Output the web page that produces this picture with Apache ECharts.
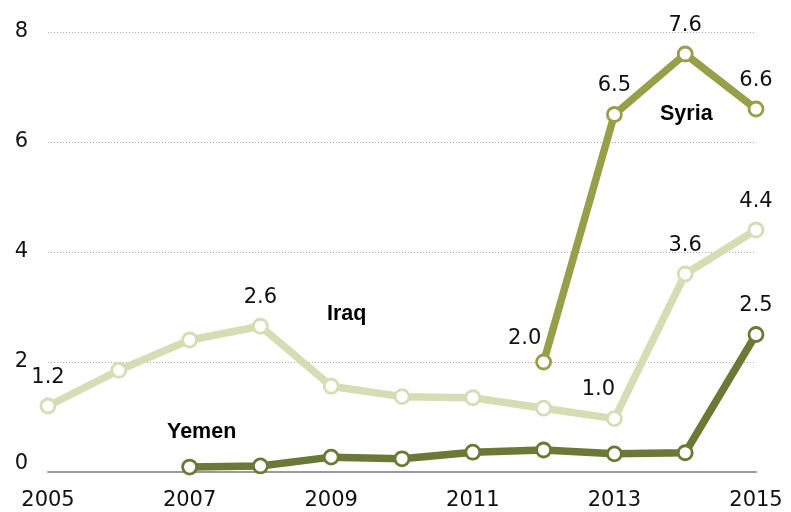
<!DOCTYPE html>
<html><head><meta charset="utf-8">
<script src="https://cdn.jsdelivr.net/npm/echarts@6/dist/echarts.min.js"></script>
<style>html,body{margin:0;padding:0;background:#fff}#c{width:791px;height:512px}</style>
</head><body><div id="c"></div>
<script>
var years = ['2005','2006','2007','2008','2009','2010','2011','2012','2013','2014','2015'];
var iraq  = [1.2, 1.85, 2.4, 2.65, 1.56, 1.37, 1.35, 1.16, 0.97, 3.6, 4.4];
var syria = [null, null, null, null, null, null, null, 2.0, 6.5, 7.6, 6.6];
var yemen = [null, null, 0.09, 0.11, 0.27, 0.24, 0.36, 0.4, 0.33, 0.35, 2.5];
var iraqLabels  = {0:'1.2', 3:'2.6', 8:'1.0', 9:'3.6', 10:'4.4'};
var syriaLabels = {7:'2.0', 8:'6.5', 9:'7.6', 10:'6.6'};
var yemenLabels = {10:'2.5'};
var yTicks = [0, 2, 4, 6, 8];

var FONT = 'DejaVu Sans, Verdana, sans-serif';
var labelFont = {fontFamily: FONT, fontSize: 21, color:'#111'};
function build(vals, labels, offs) {
  return vals.map(function(v, i){
    if (v === null) return null;
    var item = {value: v};
    if (labels[i] !== undefined) {
      item.label = Object.assign({show:true, formatter: labels[i], position: 'top', distance: 10,
        offset: (offs && offs[i]) || [0, 0]}, labelFont);
    }
    return item;
  });
}
function series(name, vals, labels, color, offs) {
  return {
    name: name, type: 'line', data: build(vals, labels, offs),
    symbol: 'circle', symbolSize: 14, showSymbol: true,
    lineStyle: {color: color, width: 7.5},
    itemStyle: {color: '#fff', borderColor: color, borderWidth: 2.8},
    connectNulls: false, animation: false, z: 3
  };
}
var nameStyle = {fontFamily: 'Liberation Sans, Arial, sans-serif', fontWeight: 'bold', fontSize: 21.5, fill: '#000'};
var chart = echarts.init(document.getElementById('c'));
chart.setOption({
  animation: false,
  grid: {left: 48, right: 35, top: 32, bottom: 40, containLabel: false},
  xAxis: {
    type: 'category', data: years, boundaryGap: false,
    axisLine: {show: true, lineStyle: {color: '#9a9a9a', width: 2}},
    axisTick: {show: false},
    axisLabel: {interval: 1, margin: 18, fontFamily: FONT, fontSize: 21, color:'#111'},
    splitLine: {show: false}
  },
  yAxis: {
    type: 'value', min: 0, max: 8, interval: 2,
    axisLine: {show: false}, axisTick: {show: false},
    axisLabel: {margin: 20, fontFamily: FONT, fontSize: 21, color:'#111',
      formatter: function(v){ if (v === 0) return '{z|0}'; return yTicks.indexOf(v) >= 0 ? String(v) : ''; },
      rich: {z: {fontFamily: FONT, fontSize: 21, color:'#111', padding: [0, 0, 16, 0]}}},
    splitLine: {show: true, lineStyle: {color: '#aaa', type: [1, 2], width: 1}}
  },
  series: [
    series('Iraq', iraq, iraqLabels, '#d6ddb4', {8: [-16, 0]}),
    series('Syria', syria, syriaLabels, '#95a049', {7: [-19, 5]}),
    series('Yemen', yemen, yemenLabels, '#6c7836')
  ],
  graphic: [
    {type:'text', left: 327, top: 303, style: Object.assign({text:'Iraq'}, nameStyle)},
    {type:'text', left: 660, top: 103, style: Object.assign({text:'Syria'}, nameStyle)},
    {type:'text', left: 167, top: 421, style: Object.assign({text:'Yemen'}, nameStyle)}
  ]
});
</script></body></html>
